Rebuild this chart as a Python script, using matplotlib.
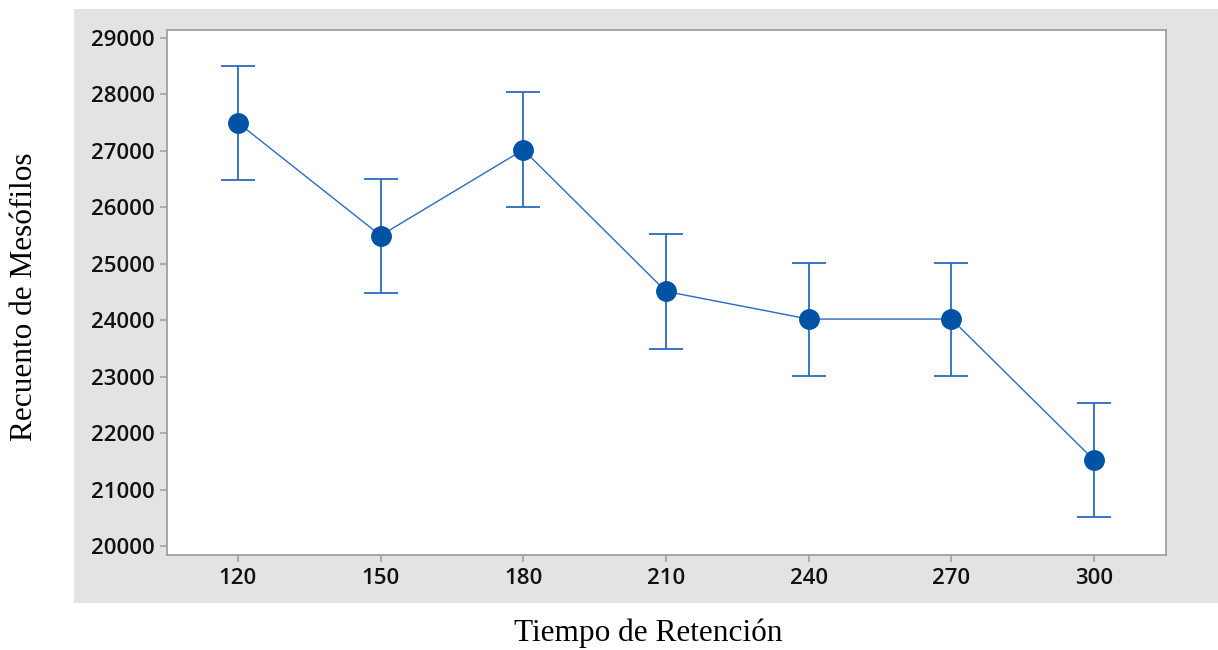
import matplotlib
matplotlib.use("Agg")
import matplotlib.pyplot as plt
from matplotlib.patches import Rectangle

tiempo = [120, 150, 180, 210, 240, 270, 300]
recuento = [27500, 25500, 27020, 24510, 24020, 24020, 21520]
error = [1010, 1010, 1020, 1020, 1000, 1000, 1010]
y_ticks = [20000, 21000, 22000, 23000, 24000, 25000, 26000, 27000, 28000, 29000]

fig = plt.figure(figsize=(12.18, 6.5), dpi=100)
W, H = 1218, 650

# gray panel background
bg = Rectangle((74 / W, 1 - 603 / H), (1218 - 74) / W, (603 - 9) / H,
               transform=fig.transFigure, facecolor="#E3E3E3",
               edgecolor="none", zorder=-10)
fig.add_artist(bg)

ax = fig.add_axes([167 / W, 1 - 555 / H, (1166 - 167) / W, (555 - 30) / H])
ax.set_zorder(5)
ax.set_facecolor("white")

ax.errorbar(tiempo, recuento, yerr=error, fmt="none", ecolor="#2A6BBF",
            elinewidth=1.3, capsize=12.5, capthick=1.3, zorder=2)
ax.plot(tiempo, recuento, color="#2A6BBF", linewidth=1.0, zorder=3)
ax.plot(tiempo, recuento, linestyle="none", marker="o", markersize=14,
        color="#0052A5", zorder=4)

ax.set_xlim(105.1, 315.1)
ax.set_ylim(19840, 29142)
ax.set_xticks(tiempo)
ax.set_yticks(y_ticks)

for s in ax.spines.values():
    s.set_color("#A0A0A0")
    s.set_linewidth(1.3)

ax.tick_params(axis="both", direction="out", length=5, width=1.2, color="#A0A0A0",
               labelsize=16, pad=4)
for lab in ax.get_xticklabels() + ax.get_yticklabels():
    lab.set_fontfamily(["Open Sans", "DejaVu Sans"])
    lab.set_fontweight("semibold")
    lab.set_color("#111111")

fig.text(25 / W, 1 - 297 / H, "Recuento de Mesófilos", rotation=90,
         ha="center", va="center", fontsize=22.5, family="Liberation Serif")
fig.text(648 / W, 1 - 633 / H, "Tiempo de Retención",
         ha="center", va="center", fontsize=22.5, family="Liberation Serif")

fig.savefig("out.png", dpi=100)
